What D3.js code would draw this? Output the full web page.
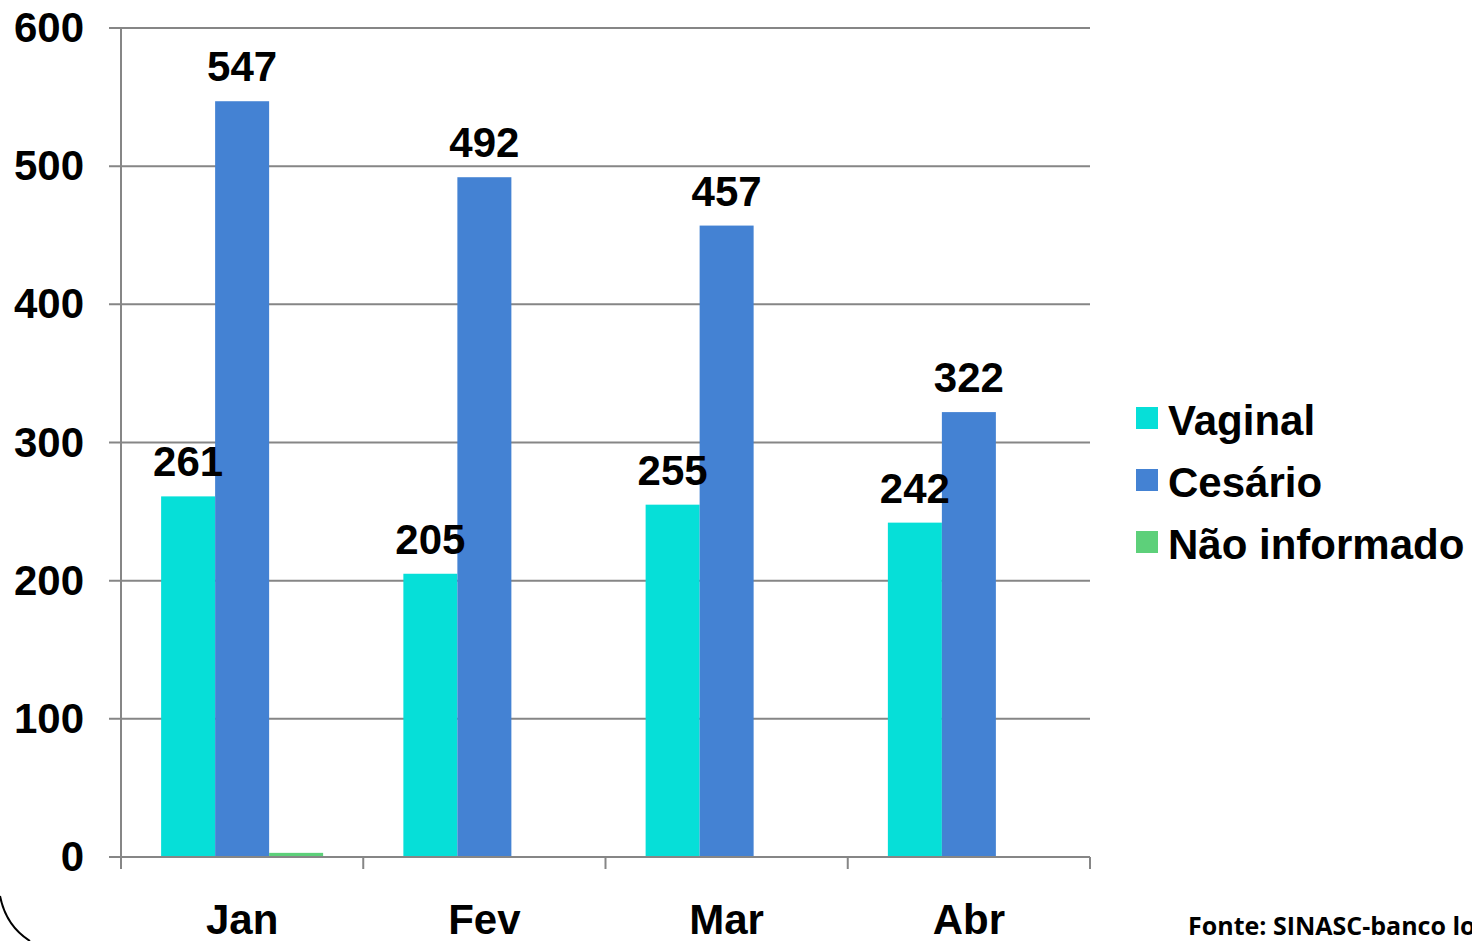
<!DOCTYPE html>
<html>
<head>
<meta charset="utf-8">
<script src="https://cdn.jsdelivr.net/npm/d3@7"></script>
<style>
  html, body { margin: 0; padding: 0; background: #ffffff; overflow: hidden; }
  svg { display: block; }
</style>
</head>
<body>
<svg id="chart" width="1472" height="941"></svg>
<script>
const categories = ["Jan", "Fev", "Mar", "Abr"];
const seriesNames = ["Vaginal", "Cesário", "Não informado"];
const vaginal = [261, 205, 255, 242];
const cesario = [547, 492, 457, 322];
const naoInformado = [3, 0, 0, 0];
const yTicks = [0, 100, 200, 300, 400, 500, 600];
const sourceText = "Fonte: SINASC-banco local";

const seriesValues = [vaginal, cesario, naoInformado];
const showLabels = [true, true, false];
const colors = ["#06DFD8", "#4482D3", "#5DD07A"];

const svg = d3.select("#chart");
const font = "'Liberation Sans', Arial, sans-serif";
const plotLeft = 121, plotRight = 1090, plotTop = 28, plotBottom = 857;

const x0 = d3.scaleBand().domain(categories).range([plotLeft, plotRight]).padding(0);
const x1 = d3.scaleBand().domain(seriesNames).range([0, x0.bandwidth()]).paddingInner(0).paddingOuter(0.743);
const y = d3.scaleLinear().domain([0, 600]).range([plotBottom, plotTop]);

const gridColor = "#868686";

// gridlines
svg.append("g").selectAll("line").data(yTicks).join("line")
  .attr("x1", plotLeft - 12).attr("x2", plotRight)
  .attr("y1", d => y(d)).attr("y2", d => y(d))
  .attr("stroke", gridColor).attr("stroke-width", 2);

// y axis line
svg.append("line").attr("x1", plotLeft).attr("x2", plotLeft)
  .attr("y1", plotTop).attr("y2", plotBottom)
  .attr("stroke", gridColor).attr("stroke-width", 2);

// x tick marks at category boundaries
const boundaries = categories.map(c => x0(c)).concat([x0(categories[categories.length - 1]) + x0.bandwidth()]);
svg.append("g").selectAll("line").data(boundaries).join("line")
  .attr("x1", d => d).attr("x2", d => d)
  .attr("y1", plotBottom).attr("y2", plotBottom + 12)
  .attr("stroke", gridColor).attr("stroke-width", 2);

// bars
seriesNames.forEach((s, si) => {
  svg.append("g").selectAll("rect").data(seriesValues[si]).join("rect")
    .attr("x", (d, i) => x0(categories[i]) + x1(s))
    .attr("width", x1.bandwidth())
    .attr("y", d => y(d))
    .attr("height", d => y(0) - y(d))
    .attr("fill", colors[si]);
});

// x axis baseline over bars
svg.append("line").attr("x1", plotLeft - 12).attr("x2", plotRight)
  .attr("y1", plotBottom).attr("y2", plotBottom)
  .attr("stroke", gridColor).attr("stroke-width", 2);

// data labels
seriesNames.forEach((s, si) => {
  if (!showLabels[si]) return;
  svg.append("g").selectAll("text").data(seriesValues[si]).join("text")
    .attr("x", (d, i) => x0(categories[i]) + x1(s) + x1.bandwidth() / 2)
    .attr("y", d => y(d) - 20)
    .attr("text-anchor", "middle")
    .attr("font-family", font).attr("font-weight", "bold").attr("font-size", 42)
    .attr("fill", "#000")
    .text(d => d);
});

// y tick labels
svg.append("g").selectAll("text").data(yTicks).join("text")
  .attr("x", 84).attr("y", d => y(d) + 14)
  .attr("text-anchor", "end")
  .attr("font-family", font).attr("font-weight", "bold").attr("font-size", 42)
  .attr("fill", "#000")
  .text(d => d);

// x category labels
svg.append("g").selectAll("text").data(categories).join("text")
  .attr("x", d => x0(d) + x0.bandwidth() / 2).attr("y", 934)
  .attr("text-anchor", "middle")
  .attr("font-family", font).attr("font-weight", "bold").attr("font-size", 42)
  .attr("fill", "#000")
  .text(d => d);

// legend
const legendY = [435, 497, 559];
const lg = svg.append("g");
seriesNames.forEach((s, si) => {
  lg.append("rect").attr("x", 1136).attr("y", legendY[si] - 28)
    .attr("width", 22).attr("height", 22).attr("fill", colors[si]);
  lg.append("text").attr("x", 1168).attr("y", legendY[si])
    .attr("font-family", font).attr("font-weight", "bold").attr("font-size", 42)
    .attr("fill", "#000").text(s);
});

// source
svg.append("text").attr("x", 1188).attr("y", 935)
  .attr("font-family", "'Open Sans', 'Noto Sans', sans-serif").attr("font-weight", "bold").attr("font-size", 25)
  .attr("fill", "#000").text(sourceText);

// decorative arc bottom-left
svg.append("path").attr("d", "M0,896 Q6,926 30,941")
  .attr("fill", "none").attr("stroke", "#000").attr("stroke-width", 2);
</script>
</body>
</html>
